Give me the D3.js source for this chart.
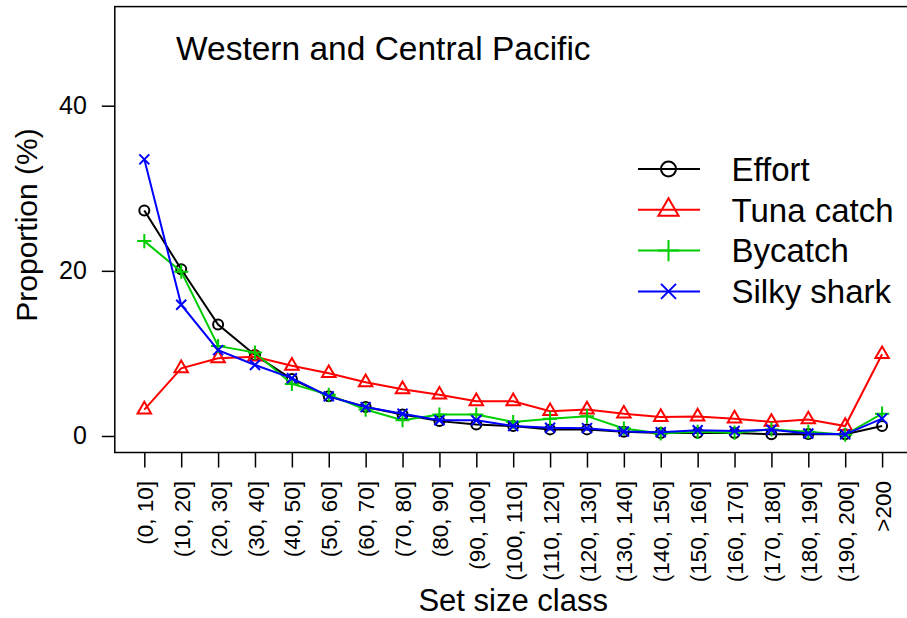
<!DOCTYPE html>
<html>
<head>
<meta charset="utf-8">
<script src="https://cdn.jsdelivr.net/npm/d3@7"></script>
<style>
  body { margin: 0; background: #fff; }
  svg { display: block; font-family: "Liberation Sans", Arial, Helvetica, sans-serif; }
</style>
</head>
<body>
<svg width="907" height="618"></svg>
<script>
let categories = ["(0, 10]", "(10, 20]", "(20, 30]", "(30, 40]", "(40, 50]", "(50, 60]", "(60, 70]",
    "(70, 80]", "(80, 90]", "(90, 100]", "(100, 110]", "(110, 120]", "(120, 130]", "(130, 140]",
    "(140, 150]", "(150, 160]", "(160, 170]", "(170, 180]", "(180, 190]", "(190, 200]", ">200"];

let effort  = [27.3, 20.2, 13.5, 9.8, 6.9, 4.8, 3.5, 2.6, 1.8, 1.4, 1.2, 0.8, 0.8, 0.5, 0.35, 0.4, 0.35, 0.2, 0.25, 0.2, 1.2];
let tuna    = [3.2, 8.2, 9.4, 9.6, 8.5, 7.6, 6.5, 5.65, 5.0, 4.2, 4.2, 3.0, 3.2, 2.7, 2.3, 2.35, 2.1, 1.7, 2.0, 1.2, 9.9];
let bycatch = [23.6, 19.9, 10.9, 10.1, 6.3, 5.0, 3.2, 1.9, 2.6, 2.6, 1.7, 2.1, 2.4, 0.9, 0.3, 0.5, 0.4, 0.8, 0.5, 0.15, 2.7];
let silky   = [33.5, 15.9, 10.4, 8.6, 7.0, 4.8, 3.5, 2.7, 1.9, 1.9, 1.2, 1.0, 0.95, 0.55, 0.45, 0.7, 0.6, 0.75, 0.3, 0.2, 2.1];

let yTicks = [0, 20, 40];
let seriesNames = ["Effort", "Tuna catch", "Bycatch", "Silky shark"];

let series = [
    {name: seriesNames[0], values: effort, color: "#000000", shape: "circle"},
    {name: seriesNames[1], values: tuna, color: "#FF0000", shape: "triangle"},
    {name: seriesNames[2], values: bycatch, color: "#00CD00", shape: "plus"},
    {name: seriesNames[3], values: silky, color: "#0000FF", shape: "cross"}
];

let svg = d3.select("svg"),
    plot = {left: 114.8, right: 911.6, top: 6.6, bottom: 452.5};

let x = d3.scalePoint().domain(categories).range([plot.left, plot.right]).padding(0.8),
    y = d3.scaleLinear().domain([-2, 52]).range([plot.bottom, plot.top]);

// R-style point symbols, s = base radius
function marker(shape, s) {
    let p = d3.path();
    if (shape === "circle") {
        p.moveTo(s, 0);
        p.arc(0, 0, s, 0, 2 * Math.PI);
    } else if (shape === "triangle") {
        let r = 1.555 * s, h = 1.347 * s, b = 0.777 * s;
        p.moveTo(0, -r);
        p.lineTo(h, b);
        p.lineTo(-h, b);
        p.closePath();
    } else if (shape === "plus") {
        let r = Math.SQRT2 * s;
        p.moveTo(-r, 0); p.lineTo(r, 0);
        p.moveTo(0, -r); p.lineTo(0, r);
    } else {
        p.moveTo(-s, -s); p.lineTo(s, s);
        p.moveTo(-s, s); p.lineTo(s, -s);
    }
    return p.toString();
}

// box
svg.append("rect")
    .attr("x", plot.left).attr("y", plot.top)
    .attr("width", plot.right - plot.left).attr("height", plot.bottom - plot.top)
    .attr("fill", "none").attr("stroke", "#000").attr("stroke-width", 1.5);

// y axis
let yAxis = svg.append("g")
    .attr("transform", "translate(" + plot.left + ",0)")
    .call(d3.axisLeft(y).tickValues(yTicks).tickSize(13).tickPadding(15));
yAxis.select(".domain").remove();
yAxis.selectAll("line").attr("stroke-width", 1.5);
yAxis.selectAll("text").attr("font-size", 25).attr("font-family", null).attr("fill", "#000");

// x axis
let xAxis = svg.append("g")
    .attr("transform", "translate(0," + plot.bottom + ")")
    .call(d3.axisBottom(x).tickSize(15));
xAxis.select(".domain").remove();
xAxis.selectAll("line").attr("stroke-width", 1.5);
xAxis.selectAll("text")
    .attr("font-size", 22.5).attr("font-family", null).attr("fill", "#000")
    .attr("transform", "rotate(-90)")
    .attr("text-anchor", "end")
    .attr("x", -28.5).attr("y", 0).attr("dy", "0.36em");

// series
let line = d3.line()
    .x((d, i) => x(categories[i]))
    .y(d => y(d));

series.forEach(s => {
    svg.append("path")
        .datum(s.values)
        .attr("d", line)
        .attr("fill", "none")
        .attr("stroke", s.color)
        .attr("stroke-width", 2);
    svg.append("g").selectAll("path")
        .data(s.values)
        .join("path")
        .attr("transform", (d, i) => "translate(" + x(categories[i]) + "," + y(d) + ")")
        .attr("d", marker(s.shape, 5))
        .attr("fill", "none")
        .attr("stroke", s.color)
        .attr("stroke-width", 2);
});

// title
svg.append("text")
    .attr("x", 176).attr("y", 60)
    .attr("font-size", 33.5)
    .text("Western and Central Pacific");

// legend
let legend = svg.append("g").attr("transform", "translate(638,169)");
series.forEach((s, i) => {
    let g = legend.append("g").attr("transform", "translate(0," + i * 40.8 + ")");
    g.append("line").attr("x1", 0).attr("x2", 62)
        .attr("stroke", s.color).attr("stroke-width", 2);
    g.append("path")
        .attr("transform", "translate(30.5,0)")
        .attr("d", marker(s.shape, 7.5))
        .attr("fill", "none")
        .attr("stroke", s.color).attr("stroke-width", 2);
    g.append("text").attr("x", 93.5).attr("dy", "0.36em")
        .attr("font-size", 33)
        .text(s.name);
});

// axis titles
svg.append("text")
    .attr("x", (plot.left + plot.right) / 2).attr("y", 611)
    .attr("text-anchor", "middle").attr("font-size", 31)
    .text("Set size class");

svg.append("text")
    .attr("transform", "translate(37," + 225 + ") rotate(-90)")
    .attr("text-anchor", "middle").attr("font-size", 30)
    .text("Proportion (%)");
</script>
</body>
</html>
